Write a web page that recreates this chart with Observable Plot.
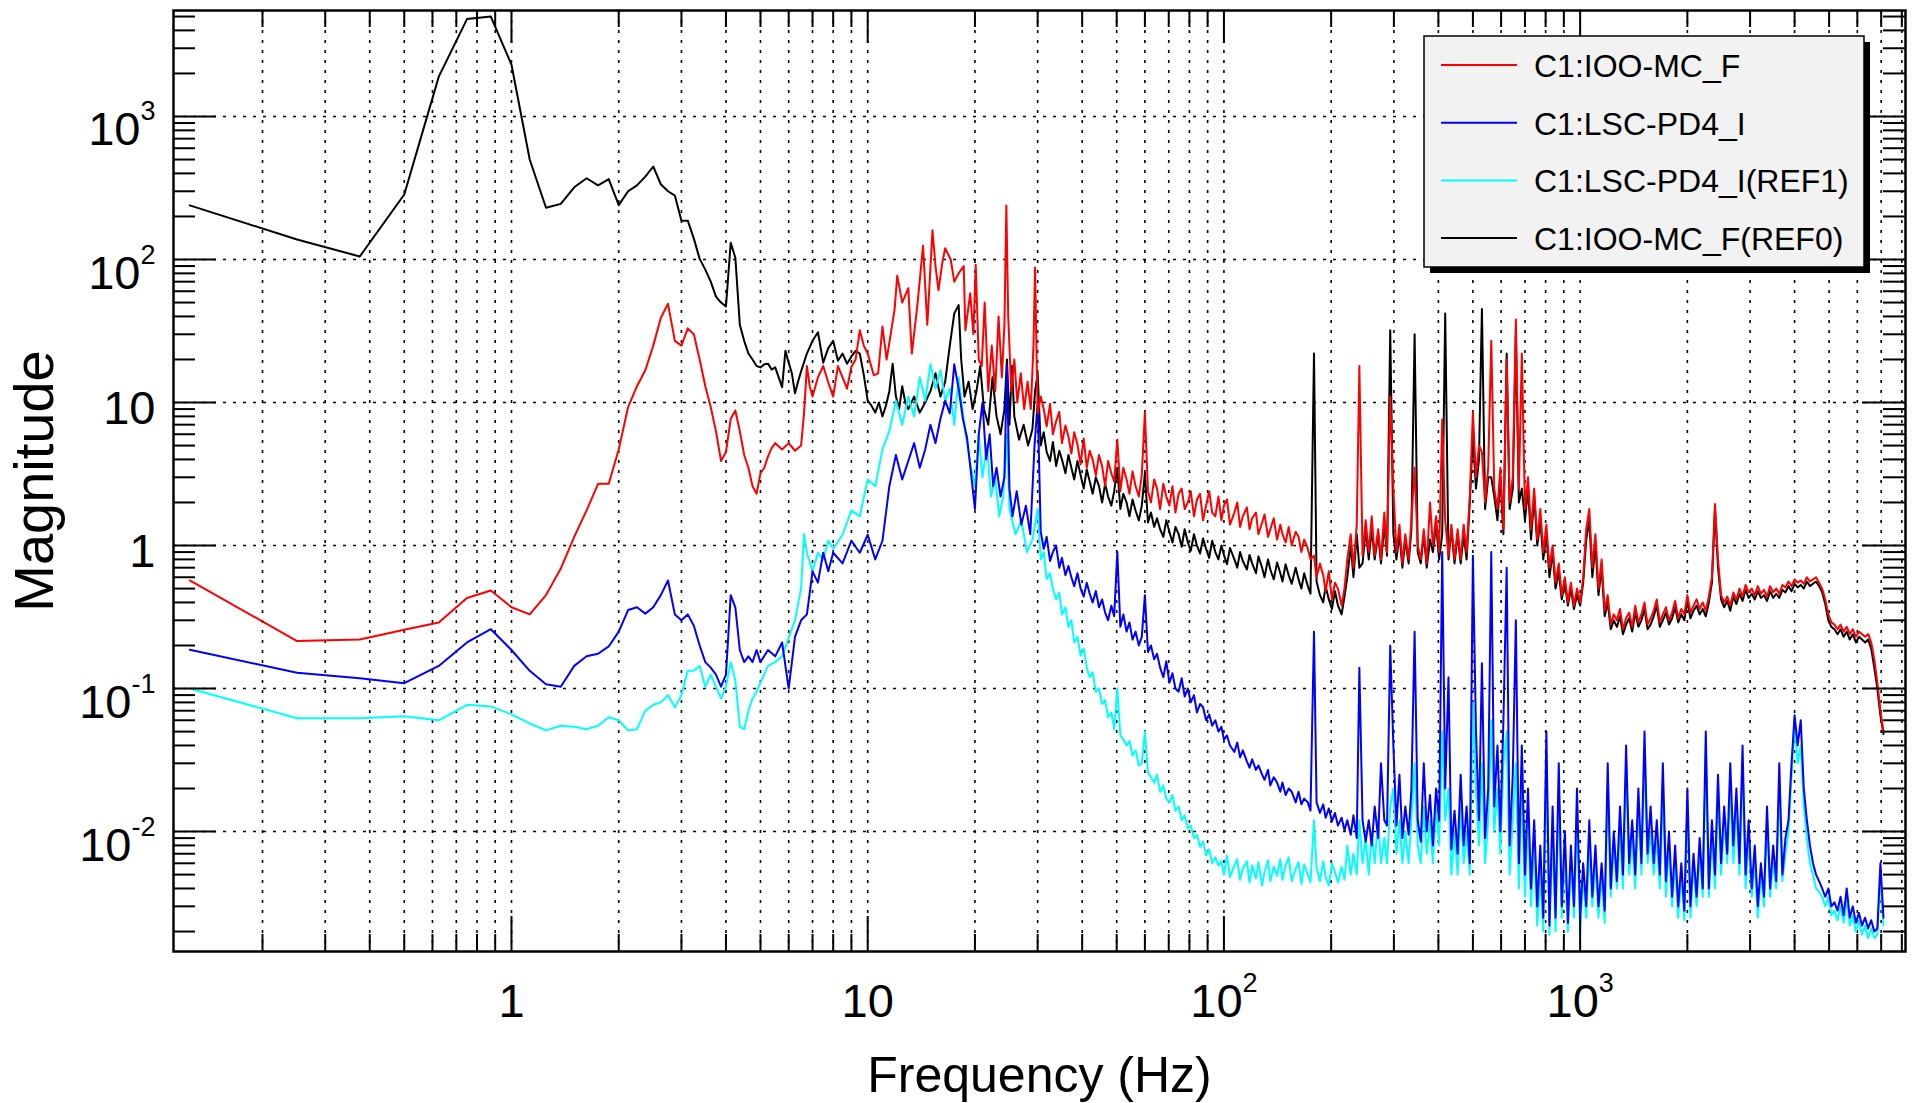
<!DOCTYPE html>
<html><head><meta charset="utf-8">
<script src="https://cdn.jsdelivr.net/npm/d3@7"></script>
<script src="https://cdn.jsdelivr.net/npm/@observablehq/plot@0.6"></script>
<style>
html,body{margin:0;padding:0;background:#fff;}
svg{display:block}
</style></head><body><div id="chart"></div>
<script>
// ---- low-frequency part (0.125 Hz bins up to ~30 Hz): [frequency Hz, magnitude] ----
const redLow = [[0.125,0.57],[0.25,0.215],[0.375,0.22],[0.5,0.258],[0.625,0.29],[0.75,0.43],[0.875,0.485],[1.0,0.37],[1.125,0.33],[1.25,0.45],[1.375,0.69],[1.5,1.15],[1.625,1.76],[1.75,2.7],[1.875,2.7],[2.0,4.7],[2.125,9.3],[2.25,13],[2.375,16.8],[2.5,25],[2.625,39],[2.75,49],[2.875,27],[3.0,25],[3.125,33],[3.25,30],[3.375,20],[3.5,13],[3.625,9.3],[3.75,6.3],[3.875,3.9],[4.0,4.5],[4.125,7.7],[4.25,8.8],[4.375,6.3],[4.5,4.3],[4.625,3.5],[4.75,2.6],[4.875,2.3],[5.0,3.2],[5.125,3.5],[5.25,4.2],[5.375,4.8],[5.5,5.2],[5.75,4.7],[6.0,5.2],[6.25,4.6],[6.5,5.0],[6.625,8.4],[6.75,18],[6.875,13],[7.0,11],[7.25,15],[7.5,18],[7.75,13.8],[8.0,11],[8.25,18],[8.5,15],[8.75,12.5],[9.0,17.8],[9.25,20],[9.5,32],[9.75,25],[10,22],[10.4,15.5],[10.7,16],[11,34],[11.3,20],[11.6,30],[11.9,45],[12.1,77],[12.5,50],[13,63],[13.3,22],[13.8,49],[14.3,125],[14.7,35],[15.2,160],[15.5,90],[15.8,61],[16.2,95],[16.5,120],[17.1,100],[17.5,70],[18,80],[18.6,90],[18.8,32],[19.4,58],[19.8,30],[20.1,92],[20.5,20],[20.9,18],[21.3,50],[21.8,12],[22.3,25],[22.8,12],[23.3,40],[23.8,15],[24.2,35],[24.5,239],[24.8,40],[25.3,12],[25.8,20],[26.3,10],[26.9,16],[27.5,9],[28.1,14],[28.7,9],[29.2,25],[29.5,88],[29.8,20]];

const blueLow = [[0.125,0.187],[0.25,0.129],[0.375,0.118],[0.5,0.109],[0.625,0.144],[0.75,0.21],[0.875,0.26],[1.0,0.186],[1.125,0.133],[1.25,0.107],[1.375,0.103],[1.5,0.144],[1.625,0.168],[1.75,0.175],[1.875,0.197],[2.0,0.25],[2.125,0.354],[2.25,0.37],[2.375,0.334],[2.5,0.37],[2.625,0.45],[2.75,0.57],[2.875,0.33],[3.0,0.3],[3.125,0.33],[3.25,0.275],[3.375,0.2],[3.5,0.153],[3.625,0.14],[3.75,0.125],[3.875,0.103],[4.0,0.125],[4.125,0.45],[4.25,0.37],[4.375,0.186],[4.5,0.153],[4.625,0.168],[4.75,0.153],[4.875,0.186],[5.0,0.153],[5.25,0.186],[5.5,0.168],[5.75,0.21],[6.0,0.1],[6.25,0.23],[6.5,0.3],[6.75,0.33],[7.0,0.66],[7.25,0.55],[7.5,0.89],[7.75,0.66],[8.0,0.89],[8.5,0.75],[9.0,1.08],[9.5,0.89],[10,1.19],[10.5,0.8],[11,1.08],[11.5,2.6],[12,4.3],[12.5,2.9],[13,3.9],[13.5,5.2],[14,3.5],[14.5,4.7],[15,7],[15.5,5.2],[16,7.7],[16.5,10.3],[17,8.4],[17.5,18.5],[18,12.5],[18.5,7.7],[19,5.7],[19.5,3.2],[20,1.8],[20.5,6],[21,10],[21.5,4],[22,6],[22.5,2.6],[23,3.5],[23.6,2.2],[24.2,3],[24.6,18],[25,2.5],[25.5,1.6],[26.2,2.4],[27,1.4],[27.8,1.9],[28.6,1.2],[29.4,5]];

const cyanLow = [[0.125,0.1],[0.25,0.062],[0.375,0.062],[0.5,0.064],[0.625,0.06],[0.75,0.077],[0.875,0.075],[1.0,0.066],[1.125,0.057],[1.25,0.051],[1.375,0.055],[1.5,0.054],[1.625,0.052],[1.75,0.055],[1.875,0.063],[2.0,0.06],[2.125,0.051],[2.25,0.052],[2.375,0.07],[2.5,0.077],[2.625,0.08],[2.75,0.09],[2.875,0.074],[3.0,0.09],[3.125,0.133],[3.25,0.133],[3.375,0.144],[3.5,0.103],[3.625,0.125],[3.75,0.103],[3.875,0.085],[4.0,0.103],[4.125,0.153],[4.25,0.114],[4.375,0.054],[4.5,0.052],[4.625,0.07],[4.75,0.085],[4.875,0.095],[5.0,0.11],[5.25,0.144],[5.5,0.153],[5.75,0.168],[6.0,0.226],[6.25,0.3],[6.5,0.5],[6.625,1.2],[6.75,0.89],[7.0,0.66],[7.25,0.89],[7.5,0.8],[7.75,1.08],[8.0,0.95],[8.5,1.19],[9.0,1.76],[9.5,1.6],[10,2.9],[10.5,2.6],[11,4.7],[11.5,6.3],[12,10.3],[12.5,7],[13,11],[13.5,8],[14,15],[14.5,10.3],[15,18.5],[15.5,12.5],[16,16.8],[16.5,10.3],[17,12.5],[17.5,7],[18,15],[18.5,8.4],[19,5.2],[19.5,3.5],[20,2.6],[20.5,6],[21,3],[21.6,5],[22.2,2.2],[22.8,3],[23.4,1.6],[24,2.2],[24.6,6],[25,1.8],[26,1.2],[27,1.5],[28,0.9],[29,1.1]];

const blackLow = [[0.125,239],[0.25,138],[0.375,105],[0.5,285],[0.625,1900],[0.75,4800],[0.875,5000],[1.0,2300],[1.125,500],[1.25,230],[1.375,245],[1.5,320],[1.625,370],[1.75,330],[1.875,365],[2.0,240],[2.125,300],[2.25,330],[2.375,380],[2.5,447],[2.625,336],[2.75,300],[2.875,280],[3.0,187],[3.125,187],[3.25,140],[3.375,101],[3.5,85],[3.625,70],[3.75,55],[3.875,50],[4.0,47],[4.125,131],[4.25,103],[4.375,35],[4.5,27],[4.625,22],[4.75,20],[4.875,18],[5.0,17.6],[5.125,18.5],[5.25,18.7],[5.375,17],[5.5,17.6],[5.625,15],[5.75,12.8],[5.875,23],[6.0,19],[6.125,16],[6.25,11.6],[6.375,14],[6.5,16.5],[6.75,22],[7.0,27],[7.25,31],[7.5,19],[7.75,24],[8.0,27],[8.25,19.6],[8.5,22],[8.75,18.7],[9.0,21],[9.25,23],[9.5,22],[9.75,15.6],[10,10.3],[10.25,9.5],[10.5,8.5],[10.75,10],[11,8],[11.25,9.5],[11.5,12],[11.75,18.7],[12,11],[12.25,9],[12.5,13],[12.75,10],[13,9],[13.5,11],[14,8.5],[14.5,10],[15,12],[15.5,16],[16,11],[16.5,14],[17,25],[17.5,42],[18,48],[18.3,20],[18.7,11],[19.2,14],[19.7,9],[20.2,12],[20.7,18],[21.2,9],[21.8,7],[22.4,15],[23,8],[23.6,6],[24.2,9],[24.6,20],[25,7],[25.4,18],[25.8,8],[26.6,5.5],[27.4,7],[28.2,5],[29,6.5],[29.5,12]];

// ---- high-frequency part: shared frequency bins (Hz) and magnitudes per trace ----
const fHi = [
30.0,30.6,31.2,31.8,32.5,33.1,33.8,34.5,35.1,35.9,
36.6,37.3,38.0,38.8,39.6,40.4,41.2,42.0,42.8,43.7,
44.6,45.5,46.4,47.3,48.3,49.2,50.2,51.2,52.2,53.3,
54.3,55.4,56.5,57.7,58.8,60.0,61.2,62.4,63.7,64.9,
66.2,67.6,68.9,70.3,71.7,73.1,74.6,76.1,77.6,79.2,
80.7,82.4,84.0,85.7,87.4,89.1,90.9,92.7,94.6,96.5,
98.4,100,102,104,107,109,111,113,116,118,
120,123,125,128,130,133,135,138,141,144,
146,149,152,155,159,162,165,168,172,175,
179,182,186,190,193,197,201,205,209,214,
218,222,227,231,236,240,245,250,255,260,
265,271,276,282,287,293,299,305,311,317,
323,330,336,343,350,357,364,371,379,386,
394,402,410,418,427,435,444,453,462,471,
480,490,500,510,520,530,541,552,563,574,
586,597,609,622,634,647,660,673,686,700,
714,728,743,758,773,788,804,820,837,853,
871,888,906,924,942,961,980,1000,1020,1040,
1061,1082,1104,1126,1149,1172,1195,1219,1243,1268,
1294,1319,1346,1373,1400,1428,1457,1486,1516,1546,
1577,1609,1641,1674,1707,1741,1776,1812,1848,1885,
1923,1961,2000,2040,2081,2123,2165,2209,2253,2298,
2344,2391,2438,2487,2537,2588,2639,2692,2746,2801,
2857,2914,2972,3032,3092,3154,3217,3282,3347,3414,
3483,3552,3623,3696,3770,3845,3922,4000,4080,4162,
4245,4330,4417,4505,4595,4687,4781,4877,4974,5074,
5175,5279,5384,5492,5602,5714,5828,5945,6064,6185,
6309,6435,6564,6695,6829,6966,7105];

const redHi = [
8.4,11,9.0,6.8,9.8,6.0,7.4,8.6,5.2,6.9,
5.8,4.4,6.2,5.1,3.7,5.6,3.5,4.6,4.0,3.1,
4.3,3.6,2.6,3.9,3.2,2.8,5.5,2.4,3.5,2.9,
2.3,3.3,2.6,2.2,3.1,8.5,2.4,2.0,2.9,2.5,
1.8,2.7,2.2,1.9,2.6,1.7,2.3,2.5,1.8,2.0,
2.4,1.6,2.1,2.3,1.5,1.9,2.4,1.7,1.6,2.2,
1.5,1.9,2.1,1.4,1.7,2.0,1.35,1.6,1.85,1.3,
1.55,1.7,1.2,1.45,1.65,1.15,1.3,1.55,1.1,1.4,
1.2,1.05,1.35,1.0,1.25,1.15,0.9,1.1,0.95,0.8,
0.85,0.6,0.75,0.62,0.48,0.66,0.42,0.55,0.5,0.38,
0.5,0.8,1.2,0.7,1.4,18,0.85,1.5,0.9,1.6,
0.85,1.3,0.8,1.7,0.9,11,2.5,0.9,1.4,0.75,
1.2,0.8,1.5,3.5,1.0,0.8,1.3,0.75,2.0,1.0,
1.6,0.9,7.6,1.5,0.85,1.4,0.8,1.3,0.8,1.4,
0.9,2.2,8.5,3.0,5.0,4.5,2.0,3.5,27,2.5,
1.8,3.5,1.3,20,2.0,3.0,38,2.5,22,1.8,
3.0,1.3,2.5,1.1,1.8,0.9,1.4,0.7,1.0,0.55,
0.75,0.45,0.6,0.4,0.55,0.38,0.5,0.4,0.6,1.3,
1.8,0.7,1.2,0.5,0.8,0.35,0.45,0.28,0.33,0.3,
0.36,0.26,0.31,0.34,0.27,0.38,0.29,0.33,0.4,0.28,
0.31,0.35,0.42,0.29,0.33,0.37,0.3,0.34,0.41,0.31,
0.36,0.33,0.45,0.34,0.38,0.42,0.36,0.4,0.35,0.44,
0.6,1.95,0.8,0.45,0.4,0.44,0.38,0.47,0.42,0.5,
0.44,0.53,0.47,0.5,0.45,0.52,0.46,0.49,0.44,0.52,
0.47,0.5,0.46,0.53,0.51,0.56,0.52,0.58,0.55,0.57,
0.54,0.6,0.56,0.58,0.6,0.55,0.5,0.42,0.33,0.29,
0.28,0.26,0.28,0.25,0.27,0.24,0.26,0.23,0.25,0.24,
0.23,0.24,0.21,0.16,0.11,0.07,0.05];

const blackHi = [
16,5.0,6.2,4.5,3.9,5.3,3.6,4.6,4.0,3.2,
4.3,3.5,2.9,3.9,3.1,2.5,3.4,2.8,2.3,3.0,
2.6,2.0,2.7,2.2,1.9,2.4,3.5,1.8,2.3,2.0,
1.6,2.1,1.75,1.5,1.9,3.2,1.45,1.7,1.35,1.55,
1.3,1.15,1.5,1.25,1.05,1.35,1.2,0.98,1.3,1.05,
0.92,1.2,1.0,0.88,1.12,0.95,0.82,1.08,0.9,0.8,
1.0,0.86,0.74,0.96,0.8,0.7,0.9,0.78,0.68,0.86,
0.75,0.64,0.84,0.7,0.6,0.8,0.68,0.58,0.76,0.64,
0.56,0.74,0.62,0.54,0.7,0.58,0.5,0.64,0.52,0.46,
22,0.56,0.45,0.4,0.52,0.42,0.36,0.48,0.38,0.33,
0.44,0.6,1.0,0.6,1.2,0.7,0.75,1.3,0.8,1.3,
0.8,1.2,0.75,1.4,0.85,32,1.2,0.8,1.2,0.7,
1.1,0.75,1.3,30,0.9,0.75,1.2,0.7,1.1,0.9,
1.4,0.8,1.2,42,0.8,1.3,0.75,1.2,0.75,1.2,
0.8,2.0,6.0,2.5,4.0,45,1.8,3.0,3.0,2.2,
1.5,3.0,1.2,22,1.8,2.5,30,2.0,2.5,1.5,
2.5,1.1,2.2,1.0,1.5,0.8,1.2,0.6,0.9,0.5,
0.65,0.42,0.55,0.38,0.5,0.36,0.45,0.38,0.55,1.1,
1.5,0.6,1.0,0.45,0.7,0.32,0.4,0.26,0.3,0.27,
0.32,0.24,0.28,0.31,0.25,0.34,0.27,0.3,0.36,0.26,
0.28,0.32,0.38,0.27,0.3,0.34,0.28,0.31,0.37,0.29,
0.33,0.3,0.41,0.31,0.35,0.38,0.33,0.36,0.32,0.4,
0.55,1.8,0.7,0.42,0.37,0.41,0.35,0.44,0.39,0.46,
0.41,0.49,0.43,0.46,0.42,0.48,0.43,0.45,0.41,0.48,
0.43,0.46,0.43,0.49,0.47,0.52,0.48,0.54,0.51,0.53,
0.5,0.56,0.52,0.54,0.56,0.52,0.47,0.39,0.3,0.27,
0.26,0.24,0.26,0.23,0.25,0.22,0.24,0.21,0.23,0.22,
0.21,0.22,0.19,0.14,0.1,0.065,0.048];

const blueHi = [
10,1.25,0.95,1.15,0.78,0.9,1.0,0.7,0.82,0.62,
0.72,0.6,0.52,0.64,0.5,0.44,0.55,0.46,0.4,0.48,
0.37,0.42,0.34,0.3,0.38,0.32,0.9,0.27,0.33,0.25,
0.29,0.22,0.25,0.2,0.23,0.45,0.18,0.2,0.16,0.175,
0.14,0.12,0.155,0.11,0.128,0.1,0.095,0.118,0.088,0.1,
0.08,0.09,0.068,0.078,0.074,0.06,0.066,0.055,0.06,0.05,
0.054,0.044,0.047,0.04,0.036,0.042,0.033,0.037,0.031,0.028,
0.032,0.027,0.029,0.025,0.023,0.027,0.021,0.024,0.022,0.019,
0.022,0.018,0.02,0.019,0.016,0.019,0.0155,0.017,0.016,0.014,
0.25,0.016,0.0135,0.0155,0.0125,0.0145,0.0118,0.0135,0.011,0.0125,
0.0102,0.012,0.0095,0.013,0.009,0.14,0.012,0.0085,0.012,0.008,
0.015,0.009,0.03,0.012,0.011,0.2,0.04,0.011,0.025,0.009,
0.015,0.0095,0.02,0.25,0.012,0.0085,0.03,0.01,0.018,0.008,
0.02,0.012,0.9,0.02,0.12,0.0075,0.014,0.007,0.025,0.008,
0.015,0.006,0.85,0.05,0.012,0.15,0.009,0.02,0.9,0.015,
0.04,0.01,0.06,0.7,0.008,0.025,0.3,0.006,0.04,0.005,
0.02,0.004,0.012,0.003,0.008,0.0025,0.05,0.0022,0.015,0.0025,
0.03,0.003,0.01,0.0023,0.008,0.003,0.02,0.0025,0.006,0.003,
0.012,0.0035,0.008,0.003,0.006,0.0028,0.03,0.004,0.01,0.0045,
0.015,0.005,0.04,0.006,0.012,0.005,0.02,0.006,0.05,0.007,
0.015,0.006,0.012,0.005,0.03,0.0045,0.01,0.0035,0.008,0.003,
0.006,0.0028,0.02,0.003,0.007,0.0035,0.009,0.004,0.05,0.004,
0.012,0.005,0.025,0.006,0.015,0.007,0.03,0.008,0.02,0.006,
0.04,0.005,0.012,0.004,0.008,0.003,0.006,0.0035,0.015,0.004,
0.008,0.0045,0.03,0.005,0.009,0.012,0.03,0.065,0.04,0.06,
0.02,0.012,0.008,0.006,0.005,0.0045,0.004,0.0035,0.004,0.003,
0.0032,0.0028,0.0035,0.0026,0.004,0.0025,0.003,0.0023,0.0027,0.0022,
0.0025,0.0021,0.0024,0.002,0.0021,0.006,0.0025];

const cyanHi = [
1.8,0.8,0.9,0.58,0.64,0.5,0.42,0.47,0.33,0.37,
0.27,0.3,0.21,0.23,0.17,0.19,0.14,0.12,0.13,0.095,
0.1,0.078,0.083,0.063,0.068,0.052,0.1,0.047,0.044,0.04,
0.043,0.034,0.037,0.029,0.03,0.05,0.026,0.024,0.022,0.025,
0.019,0.021,0.017,0.016,0.018,0.014,0.015,0.012,0.013,0.0105,
0.011,0.009,0.0095,0.0078,0.0085,0.0068,0.0075,0.006,0.0066,0.0058,
0.0062,0.005,0.0068,0.0048,0.0058,0.0064,0.0046,0.0055,0.0062,0.0044,
0.0058,0.0047,0.0061,0.0042,0.0052,0.0063,0.0045,0.0057,0.0049,0.0064,
0.0046,0.0058,0.0066,0.0045,0.0055,0.0061,0.0043,0.0059,0.005,0.0044,
0.012,0.0056,0.0045,0.0062,0.0048,0.0042,0.006,0.0052,0.0044,0.0057,
0.0046,0.008,0.005,0.007,0.005,0.012,0.006,0.009,0.005,0.01,
0.006,0.012,0.006,0.009,0.006,0.015,0.02,0.007,0.012,0.006,
0.01,0.006,0.012,0.03,0.008,0.006,0.015,0.007,0.012,0.006,
0.015,0.008,0.05,0.012,0.02,0.005,0.01,0.005,0.015,0.006,
0.01,0.005,0.08,0.02,0.008,0.03,0.006,0.012,0.06,0.01,
0.02,0.007,0.03,0.05,0.005,0.012,0.03,0.004,0.02,0.0035,
0.012,0.003,0.008,0.0022,0.005,0.002,0.03,0.0019,0.01,0.002,
0.02,0.0025,0.007,0.002,0.006,0.0025,0.012,0.002,0.005,0.0025,
0.008,0.003,0.006,0.0025,0.005,0.0023,0.02,0.0035,0.008,0.004,
0.01,0.004,0.03,0.005,0.009,0.004,0.015,0.005,0.035,0.006,
0.01,0.005,0.009,0.004,0.02,0.0035,0.008,0.003,0.006,0.0025,
0.005,0.0024,0.015,0.0025,0.006,0.003,0.007,0.0035,0.035,0.0035,
0.009,0.004,0.018,0.005,0.012,0.006,0.02,0.006,0.015,0.005,
0.03,0.004,0.009,0.0035,0.006,0.0025,0.005,0.003,0.012,0.0035,
0.006,0.004,0.02,0.0045,0.007,0.01,0.025,0.055,0.03,0.04,
0.015,0.009,0.006,0.005,0.004,0.0038,0.0035,0.003,0.0035,0.0026,
0.0028,0.0024,0.003,0.0023,0.0034,0.0022,0.0026,0.002,0.0024,0.0019,
0.0022,0.0018,0.0021,0.0018,0.0019,0.005,0.0022];

const seriesNames = ["C1:IOO-MC_F", "C1:LSC-PD4_I", "C1:LSC-PD4_I(REF1)", "C1:IOO-MC_F(REF0)"];
const seriesColors = ["#ff0000", "#0000ff", "#00ffff", "#000000"];
const xDomain = [0.1125, 8192];
const yDomain = [0.00145, 5510];
const xMajor = [1, 10, 100, 1000];
const yMajor = [0.01, 0.1, 1, 10, 100, 1000];
const xTickLabels = [["1", ""], ["10", ""], ["10", "2"], ["10", "3"]];
const yTickLabels = [["10", "-2"], ["10", "-1"], ["1", ""], ["10", ""], ["10", "2"], ["10", "3"]];
const xTitle = "Frequency (Hz)";
const yTitle = "Magnitude";

// ---- assemble traces ----
function joinTrace(low, hi) {
  const n = Math.min(fHi.length, hi.length);
  const out = low.map(([f, m]) => ({f, m}));
  for (let i = 0; i < n; i++) out.push({f: fHi[i], m: hi[i]});
  return out;
}
const traces = [joinTrace(redLow, redHi), joinTrace(blueLow, blueHi), joinTrace(cyanLow, cyanHi), joinTrace(blackLow, blackHi)];
const drawOrder = [3, 2, 1, 0];

// ---- layout ----
const W = 1912, H = 1103, mT = 10, mB = 152, mL = 173, mR = 7;
const innerH = H - mT - mB, innerW = W - mL - mR;
const font = "'Liberation Sans', Arial, Helvetica, sans-serif";
const labelSize = 47, supSize = 27;
const ctx = document.createElement("canvas").getContext("2d");
function tw(s, size) { ctx.font = `${size}px ${font}`; return ctx.measureText(s).width; }

function minorTicks(dom, e0, e1) {
  const out = [];
  for (let e = e0; e <= e1; e++) for (let m = 2; m <= 9; m++) {
    const v = m * Math.pow(10, e);
    if (v > dom[0] && v < dom[1]) out.push(v);
  }
  return out;
}
const xMinor = minorTicks(xDomain, -1, 3);
const yMinor = minorTicks(yDomain, -3, 3);

const tickStyle = {stroke: "#000", strokeWidth: 2};
const gridStyle = {stroke: "#000", strokeWidth: 1.6, strokeDasharray: "3,7"};

const labelMarks = [];
xMajor.forEach((v, i) => {
  const [b, e] = xTickLabels[i];
  if (!e) {
    labelMarks.push(Plot.text([v], {x: d => d, frameAnchor: "bottom", text: [b], textAnchor: "middle", lineAnchor: "bottom", dy: 65, fontSize: labelSize}));
  } else {
    const wb = tw(b, labelSize), ws = tw(e, supSize);
    const off = (wb + ws) / 2 - ws;
    labelMarks.push(Plot.text([v], {x: d => d, frameAnchor: "bottom", text: [b], textAnchor: "end", lineAnchor: "bottom", dx: off, dy: 65, fontSize: labelSize}));
    labelMarks.push(Plot.text([v], {x: d => d, frameAnchor: "bottom", text: [e], textAnchor: "start", lineAnchor: "bottom", dx: off, dy: 40, fontSize: supSize}));
  }
});
yMajor.forEach((v, i) => {
  const [b, e] = yTickLabels[i];
  if (!e) {
    labelMarks.push(Plot.text([v], {y: d => d, frameAnchor: "left", text: [b], textAnchor: "end", lineAnchor: "bottom", dx: -18, dy: 21, fontSize: labelSize}));
  } else {
    const ws = tw(e, supSize);
    labelMarks.push(Plot.text([v], {y: d => d, frameAnchor: "left", text: [b], textAnchor: "end", lineAnchor: "bottom", dx: -18 - ws, dy: 29, fontSize: labelSize}));
    labelMarks.push(Plot.text([v], {y: d => d, frameAnchor: "left", text: [e], textAnchor: "start", lineAnchor: "bottom", dx: -18 - ws, dy: 4, fontSize: supSize}));
  }
});

const plot = Plot.plot({
  width: W, height: H,
  marginTop: mT, marginBottom: mB, marginLeft: mL, marginRight: mR,
  style: {fontFamily: font, background: "#fff", color: "#000"},
  x: {type: "log", domain: xDomain, axis: null},
  y: {type: "log", domain: yDomain, axis: null},
  marks: [
    Plot.ruleX(xMinor.concat(xMajor), gridStyle),
    Plot.ruleY(yMajor, gridStyle),
    ...drawOrder.map(k => Plot.line(traces[k], {x: "f", y: "m", stroke: seriesColors[k], strokeWidth: 2})),
    Plot.ruleX(xMinor, {...tickStyle, insetTop: innerH - 17}),
    Plot.ruleX(xMinor, {...tickStyle, insetBottom: innerH - 17}),
    Plot.ruleX(xMajor, {...tickStyle, insetTop: innerH - 35}),
    Plot.ruleX(xMajor, {...tickStyle, insetBottom: innerH - 33}),
    Plot.ruleY(yMinor, {...tickStyle, insetRight: innerW - 22}),
    Plot.ruleY(yMinor, {...tickStyle, insetLeft: innerW - 22}),
    Plot.ruleY(yMajor, {...tickStyle, insetRight: innerW - 43}),
    Plot.ruleY(yMajor, {...tickStyle, insetLeft: innerW - 43}),
    Plot.frame({stroke: "#000", strokeWidth: 2.5}),
    ...labelMarks,
    Plot.text([yTitle], {frameAnchor: "left", text: d => d, rotate: -90, textAnchor: "middle", lineAnchor: "bottom", dx: 52 - mL, fontSize: 56}),
    Plot.text([xTitle], {frameAnchor: "bottom", text: d => d, textAnchor: "middle", lineAnchor: "bottom", dy: 140, fontSize: 50})
  ]
});

// ---- legend inside the frame ----
const svg = d3.select(plot);
const lg = svg.append("g").style("font-family", font);
const lx = 1424, ly = 36, lw = 440, lh = 231;
lg.append("rect").attr("x", lx + 6).attr("y", ly + 6).attr("width", lw).attr("height", lh).attr("fill", "#000");
lg.append("rect").attr("x", lx).attr("y", ly).attr("width", lw).attr("height", lh).attr("fill", "#f2f2f2").attr("stroke", "#000").attr("stroke-width", 1.5);
seriesNames.forEach((n, i) => {
  const yy = 65 + i * 57.7;
  lg.append("line").attr("x1", 1441).attr("x2", 1517).attr("y1", yy).attr("y2", yy).attr("stroke", seriesColors[i]).attr("stroke-width", 2);
  lg.append("text").attr("x", 1534).attr("y", yy + 12).style("font-size", "32px").style("text-anchor", "start").attr("fill", "#000").text(n);
});

document.getElementById("chart").appendChild(plot);
</script>
</body></html>
